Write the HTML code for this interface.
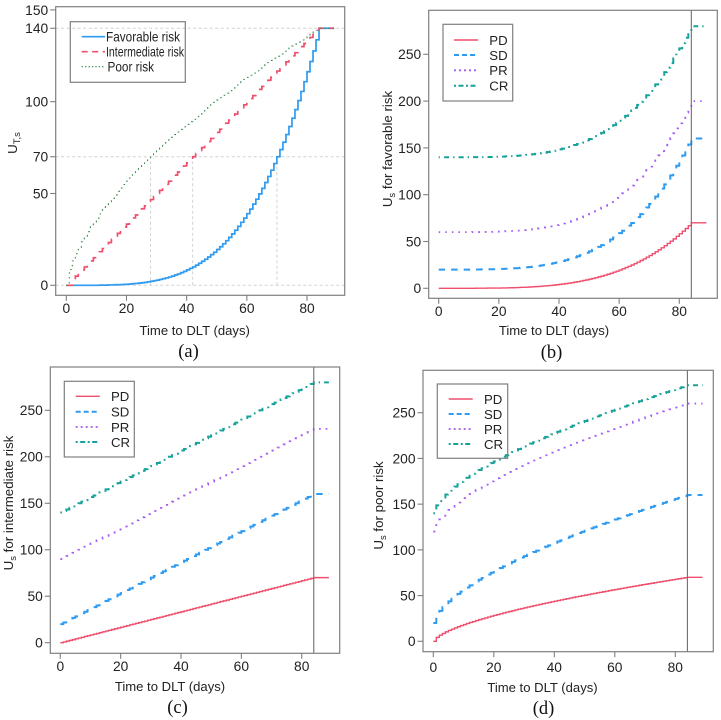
<!DOCTYPE html>
<html lang="en">
<head>
<meta charset="utf-8">
<title>Utility curves by risk group</title>
<style>
html,body{margin:0;padding:0;background:#fff;}
#figure{display:block;width:721px;height:720px;filter:blur(0.35px);}
text{font-family:"Liberation Sans",Arial,sans-serif;fill:#222;}
.caption{font-family:"Liberation Serif","Times New Roman",serif;font-size:18.5px;fill:#111;}
</style>
</head>
<body>
<svg id="figure" xmlns="http://www.w3.org/2000/svg" width="721" height="720" viewBox="0 0 721 720"></svg>
<script>
const days=[0,1,2,3,4,5,6,7,8,9,10,11,12,13,14,15,16,17,18,19,20,21,22,23,24,25,26,27,28,29,30,31,32,33,34,35,36,37,38,39,40,41,42,43,44,45,46,47,48,49,50,51,52,53,54,55,56,57,58,59,60,61,62,63,64,65,66,67,68,69,70,71,72,73,74,75,76,77,78,79,80,81,82,83,84,85,86,87,88,89];
const xTickLabels=[0,20,40,60,80];
const yTicksA=[0,50,70,100,140,150];
const yTicksOther=[0,50,100,150,200,250];
const refLevelsA=[0,70,140];
const refDaysA=[28,42,70];
const doseLimitDay=[84];

const aFavorable=[0,0,0,0,0,0,0,0,0,0,0,0.1,0.1,0.1,0.2,0.2,0.3,0.3,0.4,0.5,0.6,0.7,0.9,1,1.2,1.4,1.6,1.9,2.2,2.5,2.8,3.2,3.6,4,4.5,5,5.6,6.2,6.9,7.6,8.4,9.2,10,11,12,13.1,14.2,15.4,16.7,18,19.5,21,22.6,24.3,26.1,28,30,32.1,34.3,36.6,39,41.5,44.2,46.9,49.8,52.8,56,59.3,62.7,66.3,70,73.9,77.9,82.1,86.5,91,95.7,100.6,105.6,110.9,116.3,121.9,127.7,133.7,140,140,140,140,140,140];
const aIntermediate=[0,0,3.3,5,6.7,8.3,10,11.7,13.3,15,16.7,18.3,20,21.7,23.3,25,26.7,28.3,30,31.7,33.3,35,36.7,38.3,40,41.7,43.3,45,46.7,48.3,50,51.7,53.3,55,56.7,58.3,60,61.7,63.3,65,66.7,68.3,70,71.7,73.3,75,76.7,78.3,80,81.7,83.3,85,86.7,88.3,90,91.7,93.3,95,96.7,98.3,100,101.7,103.3,105,106.7,108.3,110,111.7,113.3,115,116.7,118.3,120,121.7,123.3,125,126.7,128.3,130,131.7,133.3,135,136.7,138.3,140,140,140,140,140,140];
const aPoor=[0,8.6,13.3,17.2,20.6,23.7,26.5,29.2,31.8,34.3,36.6,38.9,41.1,43.2,45.3,47.3,49.2,51.2,53,54.9,56.7,58.4,60.2,61.9,63.6,65.2,66.9,68.5,70.1,71.6,73.2,74.7,76.2,77.7,79.2,80.6,82.1,83.5,84.9,86.3,87.7,89.1,90.4,91.8,93.1,94.5,95.8,97.1,98.4,99.7,100.9,102.2,103.5,104.7,106,107.2,108.4,109.6,110.9,112.1,113.2,114.4,115.6,116.8,117.9,119.1,120.2,121.4,122.5,123.7,124.8,125.9,127,128.1,129.2,130.3,131.4,132.5,133.6,134.7,135.7,136.8,137.9,138.9,140,140,140,140,140,140];

const bPD=[0,0,0,0,0,0,0,0,0,0,0,0,0.1,0.1,0.1,0.1,0.2,0.2,0.2,0.3,0.3,0.4,0.4,0.5,0.6,0.7,0.8,1,1.1,1.2,1.4,1.6,1.8,2,2.3,2.5,2.8,3.1,3.4,3.8,4.2,4.6,5,5.5,6,6.6,7.1,7.7,8.4,9,9.8,10.5,11.3,12.2,13,14,15,16,17.2,18.3,19.5,20.8,22.1,23.5,24.9,26.4,28,29.7,31.4,33.2,35,37,39,41.1,43.3,45.5,47.9,50.3,52.8,55.5,58.2,61,63.9,66.9,70,70,70,70,70,70];
const bSD=[20,20,20,20,20,20,20,20,20,20,20,20.1,20.1,20.1,20.2,20.2,20.3,20.3,20.4,20.5,20.6,20.7,20.9,21,21.2,21.4,21.6,21.9,22.2,22.5,22.8,23.2,23.6,24,24.5,25,25.6,26.2,26.9,27.6,28.4,29.2,30,31,32,33.1,34.2,35.4,36.7,38,39.5,41,42.6,44.3,46.1,48,50,52.1,54.3,56.6,59,61.5,64.2,66.9,69.8,72.8,76,79.3,82.7,86.3,90,93.9,97.9,102.1,106.5,111,115.7,120.6,125.6,130.9,136.3,141.9,147.7,153.7,160,160,160,160,160,160];
const bPR=[60,60,60,60,60,60,60,60,60,60,60,60.1,60.1,60.1,60.2,60.2,60.3,60.3,60.4,60.5,60.6,60.7,60.9,61,61.2,61.4,61.6,61.9,62.2,62.5,62.8,63.2,63.6,64,64.5,65,65.6,66.2,66.9,67.6,68.4,69.2,70,71,72,73.1,74.2,75.4,76.7,78,79.5,81,82.6,84.3,86.1,88,90,92.1,94.3,96.6,99,101.5,104.2,106.9,109.8,112.8,116,119.3,122.7,126.3,130,133.9,137.9,142.1,146.5,151,155.7,160.6,165.6,170.9,176.3,181.9,187.7,193.7,200,200,200,200,200,200];
const bCR=[140,140,140,140,140,140,140,140,140,140,140,140.1,140.1,140.1,140.2,140.2,140.3,140.3,140.4,140.5,140.6,140.7,140.9,141,141.2,141.4,141.6,141.9,142.2,142.5,142.8,143.2,143.6,144,144.5,145,145.6,146.2,146.9,147.6,148.4,149.2,150,151,152,153.1,154.2,155.4,156.7,158,159.5,161,162.6,164.3,166.1,168,170,172.1,174.3,176.6,179,181.5,184.2,186.9,189.8,192.8,196,199.3,202.7,206.3,210,213.9,217.9,222.1,226.5,231,235.7,240.6,245.6,250.9,256.3,261.9,267.7,273.7,280,280,280,280,280,280];

const cPD=[0,0.8,1.7,2.5,3.3,4.2,5,5.8,6.7,7.5,8.3,9.2,10,10.8,11.7,12.5,13.3,14.2,15,15.8,16.7,17.5,18.3,19.2,20,20.8,21.7,22.5,23.3,24.2,25,25.8,26.7,27.5,28.3,29.2,30,30.8,31.7,32.5,33.3,34.2,35,35.8,36.7,37.5,38.3,39.2,40,40.8,41.7,42.5,43.3,44.2,45,45.8,46.7,47.5,48.3,49.2,50,50.8,51.7,52.5,53.3,54.2,55,55.8,56.7,57.5,58.3,59.2,60,60.8,61.7,62.5,63.3,64.2,65,65.8,66.7,67.5,68.3,69.2,70,70,70,70,70,70];
const cSD=[20,21.7,23.3,25,26.7,28.3,30,31.7,33.3,35,36.7,38.3,40,41.7,43.3,45,46.7,48.3,50,51.7,53.3,55,56.7,58.3,60,61.7,63.3,65,66.7,68.3,70,71.7,73.3,75,76.7,78.3,80,81.7,83.3,85,86.7,88.3,90,91.7,93.3,95,96.7,98.3,100,101.7,103.3,105,106.7,108.3,110,111.7,113.3,115,116.7,118.3,120,121.7,123.3,125,126.7,128.3,130,131.7,133.3,135,136.7,138.3,140,141.7,143.3,145,146.7,148.3,150,151.7,153.3,155,156.7,158.3,160,160,160,160,160,160];
const cPR=[90,91.7,93.3,95,96.7,98.3,100,101.7,103.3,105,106.7,108.3,110,111.7,113.3,115,116.7,118.3,120,121.7,123.3,125,126.7,128.3,130,131.7,133.3,135,136.7,138.3,140,141.7,143.3,145,146.7,148.3,150,151.7,153.3,155,156.7,158.3,160,161.7,163.3,165,166.7,168.3,170,171.7,173.3,175,176.7,178.3,180,181.7,183.3,185,186.7,188.3,190,191.7,193.3,195,196.7,198.3,200,201.7,203.3,205,206.7,208.3,210,211.7,213.3,215,216.7,218.3,220,221.7,223.3,225,226.7,228.3,230,230,230,230,230,230];
const cCR=[140,141.7,143.3,145,146.7,148.3,150,151.7,153.3,155,156.7,158.3,160,161.7,163.3,165,166.7,168.3,170,171.7,173.3,175,176.7,178.3,180,181.7,183.3,185,186.7,188.3,190,191.7,193.3,195,196.7,198.3,200,201.7,203.3,205,206.7,208.3,210,211.7,213.3,215,216.7,218.3,220,221.7,223.3,225,226.7,228.3,230,231.7,233.3,235,236.7,238.3,240,241.7,243.3,245,246.7,248.3,250,251.7,253.3,255,256.7,258.3,260,261.7,263.3,265,266.7,268.3,270,271.7,273.3,275,276.7,278.3,280,280,280,280,280,280];

const dPD=[0,4.3,6.7,8.6,10.3,11.9,13.3,14.6,15.9,17.2,18.3,19.5,20.6,21.6,22.7,23.7,24.6,25.6,26.5,27.5,28.4,29.2,30.1,31,31.8,32.6,33.5,34.3,35.1,35.8,36.6,37.4,38.1,38.9,39.6,40.3,41.1,41.8,42.5,43.2,43.9,44.6,45.2,45.9,46.6,47.3,47.9,48.6,49.2,49.9,50.5,51.1,51.8,52.4,53,53.6,54.2,54.8,55.5,56.1,56.6,57.2,57.8,58.4,59,59.6,60.1,60.7,61.3,61.9,62.4,63,63.5,64.1,64.6,65.2,65.7,66.3,66.8,67.4,67.9,68.4,69,69.5,70,70,70,70,70,70];
const dSD=[20,28.6,33.3,37.2,40.6,43.7,46.5,49.2,51.8,54.3,56.6,58.9,61.1,63.2,65.3,67.3,69.2,71.2,73,74.9,76.7,78.4,80.2,81.9,83.6,85.2,86.9,88.5,90.1,91.6,93.2,94.7,96.2,97.7,99.2,100.6,102.1,103.5,104.9,106.3,107.7,109.1,110.4,111.8,113.1,114.5,115.8,117.1,118.4,119.7,120.9,122.2,123.5,124.7,126,127.2,128.4,129.6,130.9,132.1,133.2,134.4,135.6,136.8,137.9,139.1,140.2,141.4,142.5,143.7,144.8,145.9,147,148.1,149.2,150.3,151.4,152.5,153.6,154.7,155.7,156.8,157.9,158.9,160,160,160,160,160,160];
const dPR=[120,128.6,133.3,137.2,140.6,143.7,146.5,149.2,151.8,154.3,156.6,158.9,161.1,163.2,165.3,167.3,169.2,171.2,173,174.9,176.7,178.4,180.2,181.9,183.6,185.2,186.9,188.5,190.1,191.6,193.2,194.7,196.2,197.7,199.2,200.6,202.1,203.5,204.9,206.3,207.7,209.1,210.4,211.8,213.1,214.5,215.8,217.1,218.4,219.7,220.9,222.2,223.5,224.7,226,227.2,228.4,229.6,230.9,232.1,233.2,234.4,235.6,236.8,237.9,239.1,240.2,241.4,242.5,243.7,244.8,245.9,247,248.1,249.2,250.3,251.4,252.5,253.6,254.7,255.7,256.8,257.9,258.9,260,260,260,260,260,260];
const dCR=[140,148.6,153.3,157.2,160.6,163.7,166.5,169.2,171.8,174.3,176.6,178.9,181.1,183.2,185.3,187.3,189.2,191.2,193,194.9,196.7,198.4,200.2,201.9,203.6,205.2,206.9,208.5,210.1,211.6,213.2,214.7,216.2,217.7,219.2,220.6,222.1,223.5,224.9,226.3,227.7,229.1,230.4,231.8,233.1,234.5,235.8,237.1,238.4,239.7,240.9,242.2,243.5,244.7,246,247.2,248.4,249.6,250.9,252.1,253.2,254.4,255.6,256.8,257.9,259.1,260.2,261.4,262.5,263.7,264.8,265.9,267,268.1,269.2,270.3,271.4,272.5,273.6,274.7,275.7,276.8,277.9,278.9,280,280,280,280,280,280];

const NS='http://www.w3.org/2000/svg';
const svg=document.getElementById('figure');
const BLUE='#2f9bf0',RED='#ef4f6c',GREEN='#3d8a4e',PURPLE='#a55cf5',TEAL='#16a29a',FRAME='#7f7f7f';
const STYLES={
  solidBlue:{c:BLUE,w:1.7,p:null,lg:''},
  dashRed:{c:RED,w:1.7,p:[6,6],lg:'6 4.5'},
  dotGreen:{c:GREEN,w:1.1,p:[1.2,3],lg:'1.4 2'},
  PD:{c:RED,w:1.4,p:null,lg:''},
  SD:{c:BLUE,w:2,p:[6.5,6],lg:'5 3'},
  PR:{c:PURPLE,w:1.8,p:[1.6,5],lg:'2 3'},
  CR:{c:TEAL,w:2,p:[1.3,4.2,5,4],lg:'2 2.5 5 2.5'}
};

function mk(tag,attrs,parent){
  const e=document.createElementNS(NS,tag);
  for(const k in attrs){e.setAttribute(k,attrs[k]);}
  (parent||svg).appendChild(e);
  return e;
}
function xAxisFn(p){return function(v){return p.x0+(v/80)*(p.x80-p.x0);};}
function yAxisFn(p){return function(v){return p.y0+(v/p.yRefVal)*(p.yRef-p.y0);};}
function stepPath(xs,ys,X,Y){
  let s='M'+X(xs[0]).toFixed(2)+' '+Y(ys[0]).toFixed(2);
  for(let i=1;i<xs.length;i++){
    s+='H'+X(xs[i]).toFixed(2)+'V'+Y(ys[i]).toFixed(2);
  }
  return s;
}
function patternOn(pos,pattern){
  const cycle=pattern.reduce(function(a,b){return a+b;},0);
  let r=pos%cycle;
  for(let i=0;i<pattern.length;i++){
    if(r<pattern[i]){return i%2===0;}
    r-=pattern[i];
  }
  return false;
}
/* Dash phase follows the smooth curve length while the ink follows the stairs. */
function dashedStepPath(xs,ys,X,Y,pattern){
  let out='',pen=false,arc=0;
  for(let i=0;i<xs.length-1;i++){
    const x0=X(xs[i]),x1=X(xs[i+1]),y0=Y(ys[i]),y1=Y(ys[i+1]);
    const dx=x1-x0,dy=y1-y0,stair=Math.abs(dx)+Math.abs(dy),chord=Math.hypot(dx,dy);
    const n=Math.ceil(stair/0.2);
    let px=x0,py=y0;
    for(let k=1;k<=n;k++){
      const u=k/n,walked=u*stair;
      const qx=walked<=dx?x0+walked:x1;
      const qy=walked<=dx?y0:y0+(walked-dx)*Math.sign(dy);
      const on=patternOn(arc+u*chord,pattern);
      if(on){
        if(!pen){out+='M'+px.toFixed(2)+' '+py.toFixed(2);}
        out+='L'+qx.toFixed(2)+' '+qy.toFixed(2);
      }
      pen=on;px=qx;py=qy;
    }
    arc+=chord;
  }
  return out;
}

const panels=[
 {id:'a',left:55.7,right:344.7,top:6.7,bottom:295.3,x0:66.3,x80:307,y0:285.3,yRef:101.7,yRefVal:100,yTicks:yTicksA,
  xLabelX:194.7,xLabelY:335,tickY:313,capX:188.5,capY:357,
  yLabelX:17,yLabelY:143,yMain:'U',ySub:'T,s',yRest:'',
  series:[{n:'favorable-risk',v:aFavorable,s:'solidBlue'},{n:'intermediate-risk',v:aIntermediate,s:'dashRed'},{n:'poor-risk',v:aPoor,s:'dotGreen'}],
  legend:{x1:70.3,x2:185.3,y1:21.7,y2:82.3,lx1:81.7,lx2:105,tx:106,ys:[36.7,51.7,66.7],
    items:[{t:'Favorable risk',s:'solidBlue',tl:74},{t:'Intermediate risk',s:'dashRed',tl:78},{t:'Poor risk',s:'dotGreen',tl:46.5,dx:1.5}]},fs:13.8},
 {id:'b',left:428.7,right:717.3,top:10.3,bottom:298.3,x0:438.7,x80:679.3,y0:288.3,yRef:54.3,yRefVal:250,yTicks:yTicksOther,
  xLabelX:554,xLabelY:335,tickY:316,capX:551.5,capY:358,
  yLabelX:392,yLabelY:149,yMain:'U',ySub:'s',yRest:' for favorable risk',
  series:[{n:'pd',v:bPD,s:'PD'},{n:'sd',v:bSD,s:'SD'},{n:'pr',v:bPR,s:'PR'},{n:'cr',v:bCR,s:'CR'}],
  legend:{x1:443,x2:512.7,y1:24.3,y2:101,lx1:454,lx2:478,tx:489.3,ys:[40,55,70.3,85.7],
    items:[{t:'PD',s:'PD'},{t:'SD',s:'SD'},{t:'PR',s:'PR'},{t:'CR',s:'CR'}]},fs:13.2,vline:true},
 {id:'c',left:50.3,right:339.7,top:367,bottom:653.3,x0:60.3,x80:301.7,y0:642.7,yRef:410.3,yRefVal:250,yTicks:yTicksOther,
  xLabelX:170,xLabelY:691,tickY:671,capX:177.5,capY:713,
  yLabelX:13,yLabelY:503,yMain:'U',ySub:'s',yRest:' for intermediate risk',
  series:[{n:'pd',v:cPD,s:'PD'},{n:'sd',v:cSD,s:'SD'},{n:'pr',v:cPR,s:'PR'},{n:'cr',v:cCR,s:'CR'}],
  legend:{x1:64.3,x2:134.3,y1:381.3,y2:457,lx1:75.7,lx2:99.7,tx:111,ys:[396.3,411.7,427,442],
    items:[{t:'PD',s:'PD'},{t:'SD',s:'SD'},{t:'PR',s:'PR'},{t:'CR',s:'CR'}]},fs:13.2,vline:true},
 {id:'d',left:423,right:713.3,top:370.3,bottom:651.7,x0:433.3,x80:675.3,y0:641.3,yRef:412.7,yRefVal:250,yTicks:yTicksOther,
  xLabelX:542.5,xLabelY:692,tickY:672,capX:543.5,capY:714,
  yLabelX:383,yLabelY:505.5,yMain:'U',ySub:'s',yRest:' for poor risk',
  series:[{n:'pd',v:dPD,s:'PD'},{n:'sd',v:dSD,s:'SD'},{n:'pr',v:dPR,s:'PR'},{n:'cr',v:dCR,s:'CR'}],
  legend:{x1:437.3,x2:507.7,y1:384,y2:458.3,lx1:448.7,lx2:472.7,tx:484,ys:[399,414,429,444],
    items:[{t:'PD',s:'PD'},{t:'SD',s:'SD'},{t:'PR',s:'PR'},{t:'CR',s:'CR'}]},fs:13.2,vline:true}
];

panels.forEach(function(p){
  const X=xAxisFn(p),Y=yAxisFn(p);
  const g=mk('g',{});
  
  

  if(p.id==='a'){
    refLevelsA.forEach(function(v){
      const l=mk('line',{x1:p.left,x2:p.right,y1:Y(v),y2:Y(v),stroke:'#d2d2d2','stroke-width':1,'stroke-dasharray':'3 2.5'},g);
      
      
    });
    refDaysA.forEach(function(d){
      const l=mk('line',{x1:X(d),x2:X(d),y1:Y(0),y2:Y(70),stroke:'#d2d2d2','stroke-width':1,'stroke-dasharray':'3 2.5'},g);
      
      
    });
  }

  p.series.forEach(function(s){
    const st=STYLES[s.s];
    const dStr=st.p?dashedStepPath(days,s.v,X,Y,st.p):stepPath(days,s.v,X,Y);
    const path=mk('path',{d:dStr,fill:'none',stroke:st.c,'stroke-width':st.w},g);
    
    
  });

  if(p.vline){
    doseLimitDay.forEach(function(d){
      const v=mk('line',{x1:X(d),x2:X(d),y1:p.top,y2:p.bottom,stroke:'#6e6e6e','stroke-width':1.1},g);
      
      
    });
  }

  const frame=mk('rect',{x:p.left,y:p.top,width:p.right-p.left,height:p.bottom-p.top,fill:'none',stroke:FRAME,'stroke-width':1.2},g);
  
  

  xTickLabels.forEach(function(v){
    const t=mk('line',{x1:X(v),x2:X(v),y1:p.bottom,y2:p.bottom+5.5,stroke:FRAME,'stroke-width':1.1},g);
    
    
    const lb=mk('text',{x:X(v),y:p.tickY,'text-anchor':'middle','font-size':13.8},g);
    
    
    lb.textContent=v;
  });
  p.yTicks.forEach(function(v){
    const t=mk('line',{x1:p.left-5.5,x2:p.left,y1:Y(v),y2:Y(v),stroke:FRAME,'stroke-width':1.1},g);
    
    
    const lb=mk('text',{x:p.left-7.5,y:Y(v)+4.9,'text-anchor':'end','font-size':13.8},g);
    
    
    lb.textContent=v;
  });

  const xl=mk('text',{x:p.xLabelX,y:p.xLabelY,'text-anchor':'middle','font-size':13.1},g);
  
  
  xl.textContent='Time to DLT (days)';

  const yl=mk('text',{x:0,y:0,'text-anchor':'middle','font-size':13.3,transform:'translate('+p.yLabelX+' '+p.yLabelY+') rotate(-90)'},g);
  
  
  const t1=mk('tspan',{},yl);
  t1.textContent=p.yMain;
  const t2=mk('tspan',{dy:3,'font-size':9.5},yl);
  t2.textContent=p.ySub;
  if(p.yRest){
    const t3=mk('tspan',{dy:-3},yl);
    t3.textContent=p.yRest;
  }

  const L=p.legend;
  const lg=mk('g',{},g);
  
  
  mk('rect',{x:L.x1,y:L.y1,width:L.x2-L.x1,height:L.y2-L.y1,fill:'none',stroke:FRAME,'stroke-width':1.2},lg);
  L.items.forEach(function(it,i){
    const st=STYLES[it.s];
    const la={x1:L.lx1,x2:L.lx2,y1:L.ys[i],y2:L.ys[i],stroke:st.c,'stroke-width':st.w};
    if(st.lg){la['stroke-dasharray']=st.lg;}
    const ln=mk('line',la,lg);
    
    
    const ta={x:L.tx+(it.dx||0),y:L.ys[i]+4.8,'font-size':p.fs};
    if(it.tl){ta.textLength=it.tl;ta.lengthAdjust='spacingAndGlyphs';}
    const tx=mk('text',ta,lg);
    
    
    tx.textContent=it.t;
  });

  const cap=mk('text',{x:p.capX,y:p.capY,'text-anchor':'middle','class':'caption'},g);
  
  
  cap.textContent='('+p.id+')';
});
</script>
</body>
</html>
